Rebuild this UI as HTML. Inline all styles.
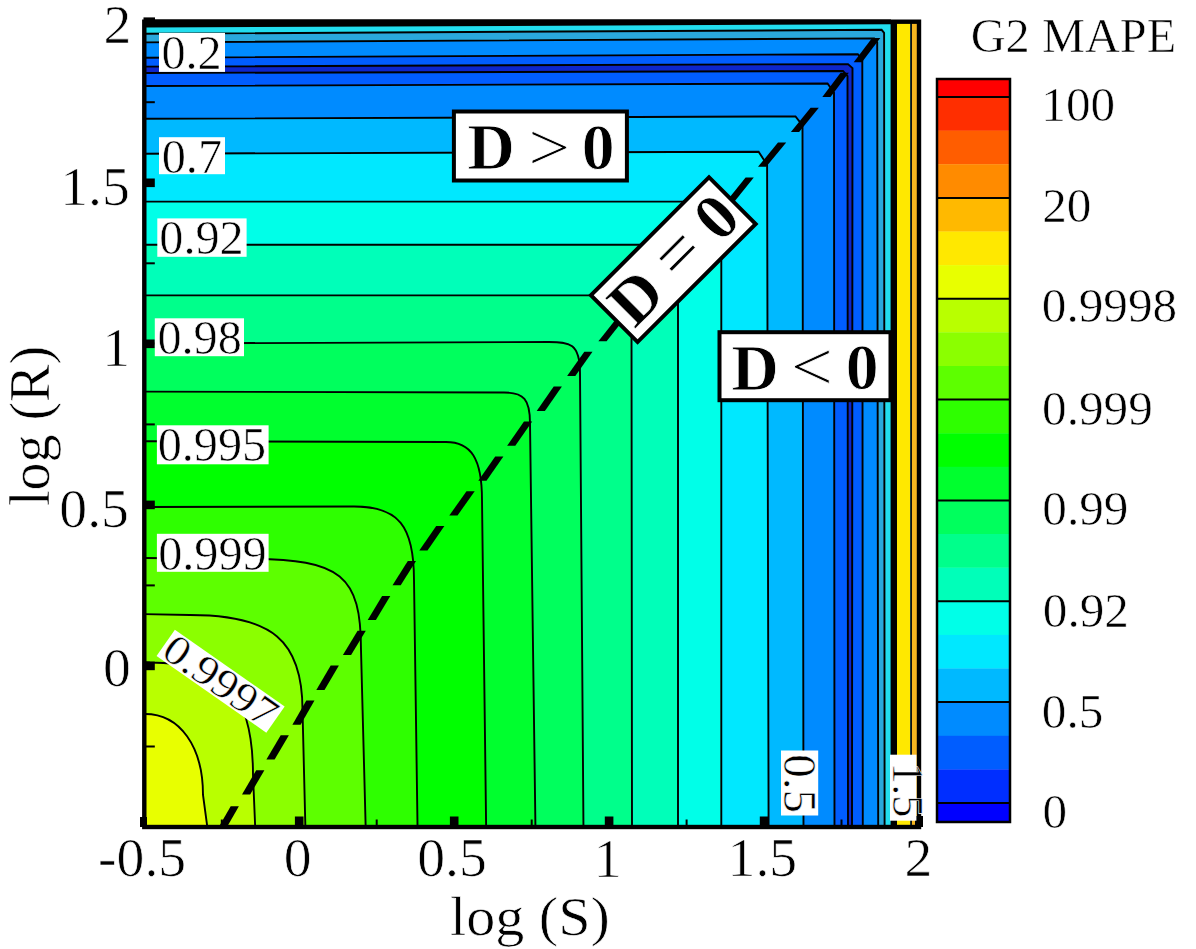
<!DOCTYPE html>
<html><head><meta charset="utf-8"><style>
html,body{margin:0;padding:0;background:#fff;width:1196px;height:949px;overflow:hidden;position:relative}
.t{position:absolute;left:0;top:0;font-family:'Liberation Serif';font-size:100px;line-height:1;white-space:pre;transform-origin:0 0;color:#000;-webkit-text-stroke:1.2px #fff;paint-order:fill stroke}
</style></head><body>
<svg width="1196" height="949" viewBox="0 0 1196 949" style="position:absolute;left:0;top:0">
<defs><clipPath id="pc"><rect x="144" y="22" width="747" height="805"/></clipPath></defs>
<rect x="144" y="20" width="775" height="808" fill="#22ddee"/>
<g clip-path="url(#pc)" stroke="#000" stroke-width="1.9" stroke-linejoin="miter">
<path d="M140,33.8 L881.6,29.8 L884.1,32.8 L884.6,832 L140,832 Z" fill="#2aa8dc"/>
<path d="M140,42.4 L874.2,38.4 L877.2,42.4 L878.2,832 L140,832 Z" fill="#008bff"/>
<path d="M140,57.7 L857.8,54.2 L862.3,59.2 L862.8,832 L140,832 Z" fill="#005dff"/>
<path d="M140,66.6 L848.0,64.1 L852.5,68.1 L852.0,832 L140,832 Z" fill="#0e26cc"/>
<path d="M140,73.0 L843.0,71.0 L847.5,76.0 L848.0,832 L140,832 Z" fill="#005dff"/>
<path d="M140,86.0 L827.5,83.5 L834.0,92.5 L834.5,832 L140,832 Z" fill="#008bff"/>
<path d="M140,118.8 L795.5,116.4 L802.5,125.4 L803.5,832 L140,832 Z" fill="#00b9ff"/>
<path d="M140,153.7 L758.6,151.7 L767.1,164.7 L768.6,832 L140,832 Z" fill="#00e8ff"/>
<path d="M140,201.6 L709.3,201.6 L721.3,215.6 L721.3,832 L140,832 Z" fill="#00ffe8"/>
<path d="M140,244.8 L664.0,244.8 L678.0,260.8 L678.0,832 L140,832 Z" fill="#00ffb9"/>
<path d="M140,295.4 L610,295.4 C622.9,295.4 631.5,304.4 631.5,318 L632,832 L140,832 Z" fill="#00ff8b"/>
<path d="M140,343.5 L549,342 C569.5,342 580,343.2 580,373 L583.5,832 L140,832 Z" fill="#00ff5d"/>
<path d="M140,391.6 L504,392.5 C523.8,392.5 530,399.5 530,423 L535.5,832 L140,832 Z" fill="#00ff2e"/>
<path d="M140,441.3 L446,442 C470.8,442 482,458.2 482,500 L486.2,832 L140,832 Z" fill="#00ff00"/>
<path d="M140,507 L354,506.5 C398.4,506.5 414,525.6 414,580 L417.6,832 L140,832 Z" fill="#2eff00"/>
<path d="M140,558 L250,559 C341.0,559 361,575.4 361,650 L365.8,832 L140,832 Z" fill="#5dff00"/>
<path d="M140,614 L190,615 C272.1,615 302.5,640.6 302.5,710 L305.5,832 L140,832 Z" fill="#8bff00"/>
<path d="M140,662 L150,662.5 C224.2,662.5 253,691.8 253,775 L255.4,832 L140,832 Z" fill="#b9ff00"/>
<path d="M140,714 L145,714 C179.8,714 203,746.4 203,795 L208,832 L140,832 Z" fill="#e8ff00"/>
</g>
<rect x="890.6" y="22" width="6.4" height="805" fill="#000"/>
<rect x="897" y="22" width="13.2" height="805" fill="#ffe800"/>
<rect x="910.2" y="22" width="1.8" height="805" fill="#111"/>
<rect x="912" y="22" width="5.5" height="805" fill="#f5b520"/>
<path d="M144,19.5 L891,19.5 L891,24.3 L144,27.6 Z" fill="#000"/>
<path d="M218.2,828.0 L226.4,828.0 L238.9,806.2 L230.7,806.2 Z" fill="#000"/>
<path d="M242.0,794.5 L250.2,794.5 L264.4,770.2 L256.2,770.2 Z" fill="#000"/>
<path d="M266.4,759.6 L274.6,759.6 L288.9,735.3 L280.7,735.3 Z" fill="#000"/>
<path d="M292.4,724.8 L300.6,724.8 L314.5,700.5 L306.3,700.5 Z" fill="#000"/>
<path d="M316.3,689.9 L324.5,689.9 L338.9,665.6 L330.7,665.6 Z" fill="#000"/>
<path d="M342.9,655.0 L351.1,655.0 L365.8,630.7 L357.6,630.7 Z" fill="#000"/>
<path d="M367.7,620.1 L375.9,620.1 L390.3,595.9 L382.1,595.9 Z" fill="#000"/>
<path d="M392.5,585.3 L400.7,585.3 L416.0,561.0 L407.8,561.0 Z" fill="#000"/>
<path d="M419.3,550.4 L427.5,550.4 L444.4,526.1 L436.2,526.1 Z" fill="#000"/>
<path d="M449.3,515.5 L457.5,515.5 L474.7,491.2 L466.5,491.2 Z" fill="#000"/>
<path d="M478.3,480.7 L486.5,480.7 L503.4,456.4 L495.2,456.4 Z" fill="#000"/>
<path d="M507.1,445.8 L515.3,445.8 L532.2,421.5 L524.0,421.5 Z" fill="#000"/>
<path d="M536.7,410.9 L544.9,410.9 L561.9,386.6 L553.7,386.6 Z" fill="#000"/>
<path d="M567.1,376.1 L575.3,376.1 L592.5,351.8 L584.3,351.8 Z" fill="#000"/>
<path d="M598.4,341.2 L606.6,341.2 L625.8,316.9 L617.6,316.9 Z" fill="#000"/>
<path d="M630.3,306.3 L638.5,306.3 L657.8,282.0 L649.6,282.0 Z" fill="#000"/>
<path d="M662.2,271.5 L670.4,271.5 L689.8,247.2 L681.6,247.2 Z" fill="#000"/>
<path d="M694.1,236.6 L702.3,236.6 L721.8,212.3 L713.6,212.3 Z" fill="#000"/>
<path d="M726.1,201.7 L734.3,201.7 L753.8,177.4 L745.6,177.4 Z" fill="#000"/>
<path d="M758.0,166.8 L766.2,166.8 L786.2,142.5 L778.0,142.5 Z" fill="#000"/>
<path d="M790.9,132.0 L799.1,132.0 L818.8,107.7 L810.6,107.7 Z" fill="#000"/>
<path d="M822.3,97.1 L830.5,97.1 L848.8,72.8 L840.6,72.8 Z" fill="#000"/>
<path d="M853.7,62.2 L861.9,62.2 L880.3,37.9 L872.1,37.9 Z" fill="#000"/>
<rect x="144.3" y="21.7" width="774.7" height="805.3" fill="none" stroke="#000" stroke-width="4.4"/>
<rect x="144.3" y="661.6" width="10.5" height="8.6" fill="#000"/>
<rect x="144.3" y="500.6" width="10.5" height="8.6" fill="#000"/>
<rect x="144.3" y="339.5" width="10.5" height="8.6" fill="#000"/>
<rect x="144.3" y="178.5" width="10.5" height="8.6" fill="#000"/>
<rect x="143.5" y="17.4" width="11.5" height="9" fill="#000"/>
<rect x="140" y="817" width="7" height="10" fill="#000"/>
<rect x="915" y="816" width="8" height="11" fill="#000"/>
<rect x="144.3" y="745.5" width="10.5" height="2" fill="#000"/>
<rect x="144.3" y="584.4" width="10.5" height="2" fill="#000"/>
<rect x="144.3" y="423.4" width="10.5" height="2" fill="#000"/>
<rect x="144.3" y="262.3" width="10.5" height="2" fill="#000"/>
<rect x="144.3" y="101.2" width="10.5" height="2" fill="#000"/>
<rect x="294.9" y="816.5" width="8.6" height="10.5" fill="#000"/>
<rect x="449.9" y="816.5" width="8.6" height="10.5" fill="#000"/>
<rect x="604.8" y="816.5" width="8.6" height="10.5" fill="#000"/>
<rect x="759.8" y="816.5" width="8.6" height="10.5" fill="#000"/>
<rect x="220.8" y="819.5" width="2" height="7.5" fill="#000"/>
<rect x="375.7" y="819.5" width="2" height="7.5" fill="#000"/>
<rect x="530.7" y="819.5" width="2" height="7.5" fill="#000"/>
<rect x="685.6" y="819.5" width="2" height="7.5" fill="#000"/>
<rect x="840.5" y="819.5" width="2" height="7.5" fill="#000"/>
<rect x="159" y="32.9" width="66" height="39" fill="#fff"/>
<rect x="159" y="137.2" width="66" height="37" fill="#fff"/>
<rect x="157.3" y="218.4" width="89.3" height="38.4" fill="#fff"/>
<rect x="154.8" y="318.3" width="89.2" height="37.9" fill="#fff"/>
<rect x="156.9" y="425.3" width="111.7" height="39" fill="#fff"/>
<rect x="156.9" y="533.8" width="111.7" height="38" fill="#fff"/>
<g transform="translate(220.6,681.2) rotate(35)">
<rect x="-67" y="-16" width="134" height="32" fill="#fff"/>
<text x="0" y="15.5" transform="scale(1,0.9)" font-family="Liberation Serif" stroke="#fff" stroke-width="0.6" font-size="47" text-anchor="middle">0.9997</text></g>
<g transform="translate(799.6,783) rotate(90)">
<rect x="-32.5" y="-18.6" width="65" height="37.2" fill="#fff"/>
<text x="0.5" y="16" font-family="Liberation Serif" stroke="#fff" stroke-width="0.6" font-size="47" text-anchor="middle">0.5</text></g>
<g transform="translate(903.2,787.7) rotate(90)">
<rect x="-33" y="-13.2" width="66" height="26.4" fill="#fff"/>
<text x="2" y="10.5" font-family="Liberation Serif" stroke="#fff" stroke-width="0.6" font-size="44" text-anchor="middle">1.5</text></g>
<g transform="translate(540.4,146) rotate(0)">
<rect x="-86.5" y="-34.5" width="173" height="69" fill="#fff" stroke="#000" stroke-width="4"/>
</g>
<g transform="translate(805,366.2) rotate(0)">
<rect x="-85.5" y="-34.0" width="171" height="68" fill="#fff" stroke="#000" stroke-width="4"/>
</g>
<g transform="translate(673.3,259.6) rotate(-45)">
<rect x="-83.5" y="-33.0" width="167" height="66" fill="#fff" stroke="#000" stroke-width="4"/>
<text x="0" y="22" font-family="Liberation Serif" stroke="#fff" stroke-width="0.6" font-size="65.5" font-weight="bold" text-anchor="middle">D <tspan font-weight="normal" font-size="72">=</tspan> 0</text>
</g>
<text transform="translate(48.5,426) rotate(-90)" font-family="Liberation Serif" stroke="#fff" stroke-width="0.6" font-size="56" text-anchor="middle">log (R)</text>
<rect x="937" y="79.0" width="73" height="18.3" fill="#ff0000"/>
<rect x="937" y="97.0" width="73" height="33.9" fill="#ff2e00"/>
<rect x="937" y="130.6" width="73" height="33.9" fill="#ff5d00"/>
<rect x="937" y="164.2" width="73" height="33.9" fill="#ff8b00"/>
<rect x="937" y="197.9" width="73" height="33.9" fill="#ffb900"/>
<rect x="937" y="231.5" width="73" height="33.9" fill="#ffe800"/>
<rect x="937" y="265.1" width="73" height="33.9" fill="#e8ff00"/>
<rect x="937" y="298.7" width="73" height="33.9" fill="#b9ff00"/>
<rect x="937" y="332.3" width="73" height="33.9" fill="#8bff00"/>
<rect x="937" y="366.0" width="73" height="33.9" fill="#5dff00"/>
<rect x="937" y="399.6" width="73" height="33.9" fill="#2eff00"/>
<rect x="937" y="433.2" width="73" height="33.9" fill="#00ff00"/>
<rect x="937" y="466.8" width="73" height="33.9" fill="#00ff2e"/>
<rect x="937" y="500.4" width="73" height="33.9" fill="#00ff5d"/>
<rect x="937" y="534.0" width="73" height="33.9" fill="#00ff8b"/>
<rect x="937" y="567.7" width="73" height="33.9" fill="#00ffb9"/>
<rect x="937" y="601.3" width="73" height="33.9" fill="#00ffe8"/>
<rect x="937" y="634.9" width="73" height="33.9" fill="#00e8ff"/>
<rect x="937" y="668.5" width="73" height="33.9" fill="#00b9ff"/>
<rect x="937" y="702.1" width="73" height="33.9" fill="#008bff"/>
<rect x="937" y="735.8" width="73" height="33.9" fill="#005dff"/>
<rect x="937" y="769.4" width="73" height="33.9" fill="#002eff"/>
<rect x="937" y="803.0" width="73" height="19.3" fill="#0000ff"/>
<line x1="937" x2="1010" y1="97.0" y2="97.0" stroke="#000" stroke-width="2"/>
<line x1="937" x2="1010" y1="197.9" y2="197.9" stroke="#000" stroke-width="2"/>
<line x1="937" x2="1010" y1="298.7" y2="298.7" stroke="#000" stroke-width="2"/>
<line x1="937" x2="1010" y1="399.6" y2="399.6" stroke="#000" stroke-width="2"/>
<line x1="937" x2="1010" y1="500.4" y2="500.4" stroke="#000" stroke-width="2"/>
<line x1="937" x2="1010" y1="601.3" y2="601.3" stroke="#000" stroke-width="2"/>
<line x1="937" x2="1010" y1="702.1" y2="702.1" stroke="#000" stroke-width="2"/>
<line x1="937" x2="1010" y1="803.0" y2="803.0" stroke="#000" stroke-width="2"/>
<rect x="937" y="79" width="73" height="743" fill="none" stroke="#000" stroke-width="2.5"/>
</svg>
<div class="t" style="font-weight:normal;transform:matrix(0.5570,0,0,0.5570,103.38,-3.38)">2</div>
<div class="t" style="font-weight:normal;transform:matrix(0.5570,0,0,0.5570,60.24,158.37)">1.5</div>
<div class="t" style="font-weight:normal;transform:matrix(0.5570,0,0,0.5570,102.34,320.00)">1</div>
<div class="t" style="font-weight:normal;transform:matrix(0.5570,0,0,0.5570,59.29,480.81)">0.5</div>
<div class="t" style="font-weight:normal;transform:matrix(0.5570,0,0,0.5570,102.88,639.81)">0</div>
<div class="t" style="font-weight:normal;transform:matrix(0.5570,0,0,0.5570,98.00,829.61)">-0.5</div>
<div class="t" style="font-weight:normal;transform:matrix(0.5570,0,0,0.5570,283.77,829.81)">0</div>
<div class="t" style="font-weight:normal;transform:matrix(0.5570,0,0,0.5570,417.14,829.66)">0.5</div>
<div class="t" style="font-weight:normal;transform:matrix(0.5570,0,0,0.5570,593.64,830.65)">1</div>
<div class="t" style="font-weight:normal;transform:matrix(0.5570,0,0,0.5570,727.54,830.07)">1.5</div>
<div class="t" style="font-weight:normal;transform:matrix(0.5570,0,0,0.5570,904.53,830.07)">2</div>
<div class="t" style="font-weight:normal;transform:matrix(0.5810,0,0,0.5522,450.04,889.37)">log (S)</div>
<div class="t" style="font-weight:normal;transform:matrix(0.4837,0,0,0.4912,970.67,11.35)">G2 MAPE</div>
<div class="t" style="font-weight:normal;transform:matrix(0.4920,0,0,0.4920,1041.37,80.51)">100</div>
<div class="t" style="font-weight:normal;transform:matrix(0.4920,0,0,0.4920,1042.25,180.81)">20</div>
<div class="t" style="font-weight:normal;transform:matrix(0.4920,0,0,0.4920,1041.85,281.66)">0.9998</div>
<div class="t" style="font-weight:normal;transform:matrix(0.4920,0,0,0.4920,1042.10,383.76)">0.999</div>
<div class="t" style="font-weight:normal;transform:matrix(0.4920,0,0,0.4920,1042.30,484.31)">0.99</div>
<div class="t" style="font-weight:normal;transform:matrix(0.4920,0,0,0.4920,1042.79,586.61)">0.92</div>
<div class="t" style="font-weight:normal;transform:matrix(0.4920,0,0,0.4920,1041.80,686.91)">0.5</div>
<div class="t" style="font-weight:normal;transform:matrix(0.4920,0,0,0.4920,1042.50,787.11)">0</div>
<div class="t" style="font-weight:normal;transform:matrix(0.4820,0,0,0.4820,161.46,28.63)">0.2</div>
<div class="t" style="font-weight:normal;transform:matrix(0.4820,0,0,0.4820,161.73,133.03)">0.7</div>
<div class="t" style="font-weight:normal;transform:matrix(0.4820,0,0,0.4820,159.36,214.43)">0.92</div>
<div class="t" style="font-weight:normal;transform:matrix(0.4820,0,0,0.4820,157.38,314.38)">0.98</div>
<div class="t" style="font-weight:normal;transform:matrix(0.4820,0,0,0.4820,157.63,421.23)">0.995</div>
<div class="t" style="font-weight:normal;transform:matrix(0.4820,0,0,0.4820,158.13,529.73)">0.999</div>
<div class="t" style="font-weight:bold;transform:matrix(0.6550,0,0,0.6550,467.40,114.97)">D</div>
<div class="t" style="font-weight:normal;transform:matrix(0.7447,0,0,0.6771,528.28,113.40)">&gt;</div>
<div class="t" style="font-weight:bold;transform:matrix(0.6550,0,0,0.6550,581.73,114.32)">0</div>
<div class="t" style="font-weight:bold;transform:matrix(0.6550,0,0,0.6550,731.40,335.42)">D</div>
<div class="t" style="font-weight:normal;transform:matrix(0.7468,0,0,0.6915,790.77,333.02)">&lt;</div>
<div class="t" style="font-weight:bold;transform:matrix(0.6550,0,0,0.6550,845.83,334.77)">0</div>
</body></html>
